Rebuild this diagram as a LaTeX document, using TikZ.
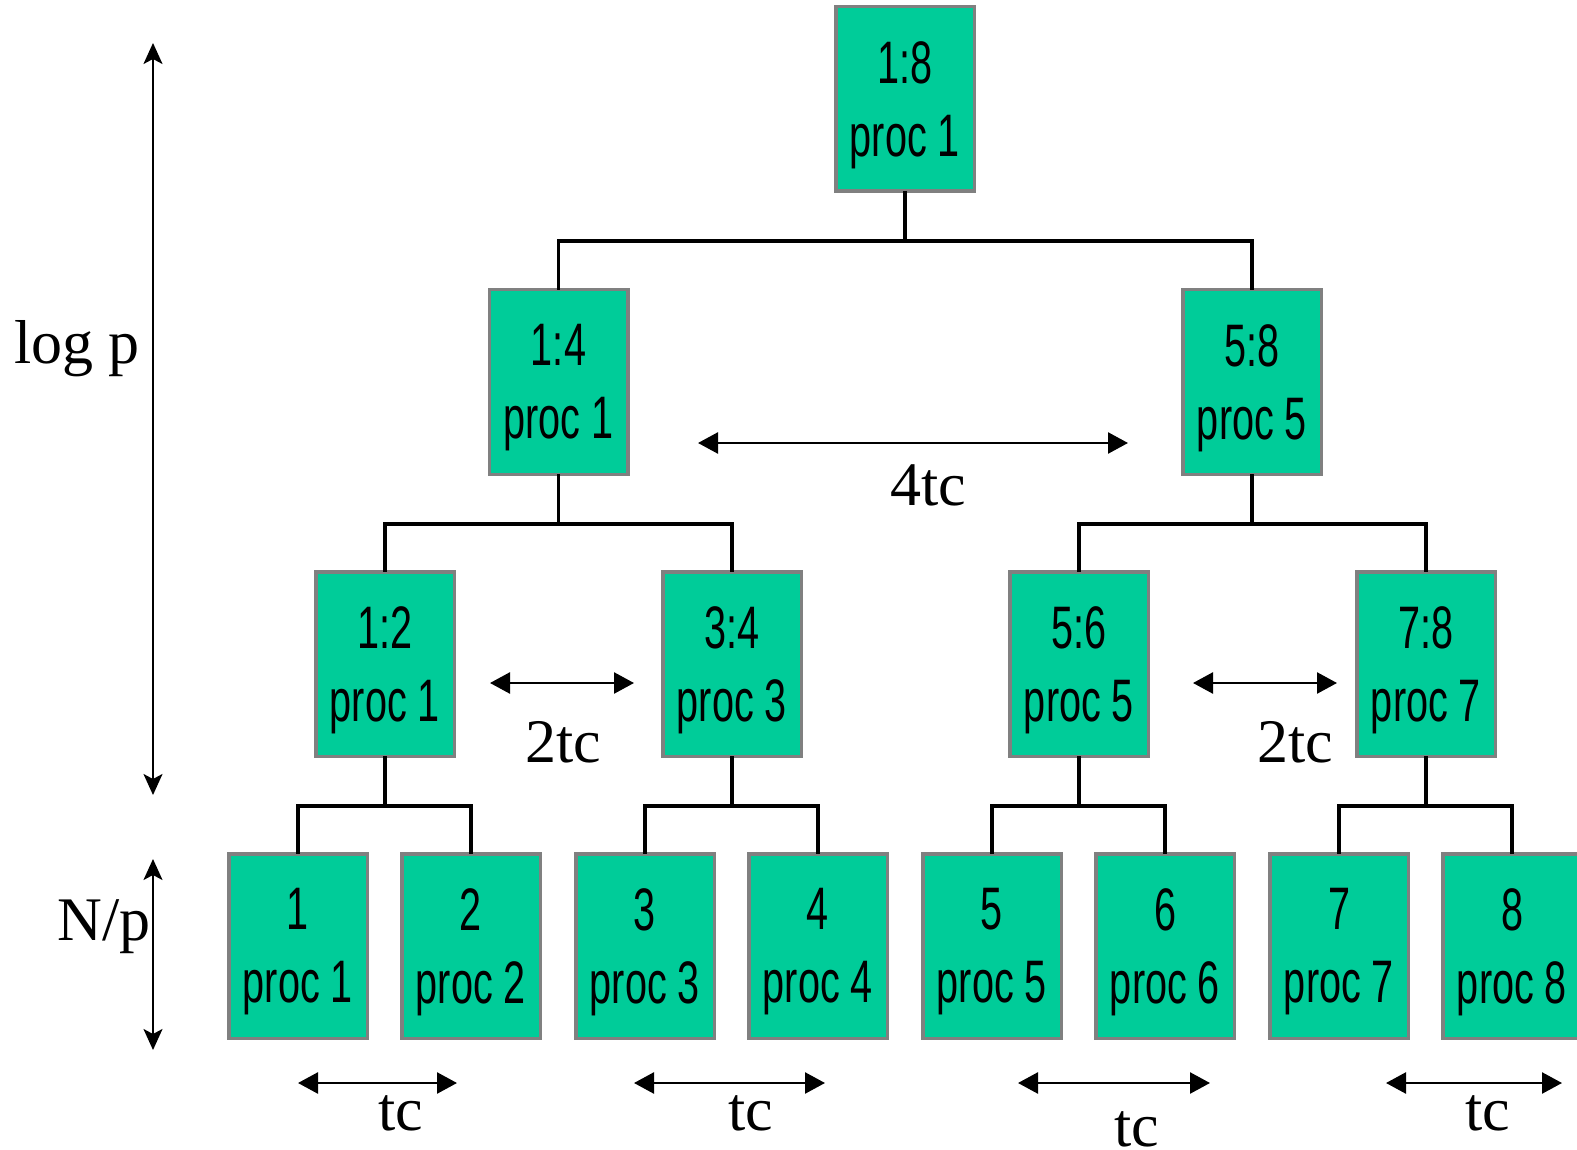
\documentclass[tikz,border=0pt]{standalone}
\usepackage{fontspec}
\setmainfont{Liberation Serif}
\newfontfamily\boxfont[FakeStretch=0.66]{Liberation Sans}
\usetikzlibrary{arrows.meta,calc}

\definecolor{procgreen}{RGB}{0,204,153}
\definecolor{procborder}{RGB}{128,128,128}

\tikzset{
  pbox/.style={draw=procborder, fill=procgreen, line width=3.5pt,
    minimum width=138.5pt, minimum height=184.5pt, inner sep=0pt},
  ptext/.style={align=center, inner sep=0pt, yshift=-6pt,
    font=\boxfont\fontsize{60}{73}\selectfont},
  link/.style={line width=3.5pt, line cap=rect},
  span/.style={line width=2.5pt,
    {Triangle[length=20pt,width=21pt]}-{Triangle[length=20pt,width=21pt]}},
  axis/.style={line width=2pt,
    {Stealth[length=21pt,width=19pt,inset=5pt]}-{Stealth[length=21pt,width=19pt,inset=5pt]}},
  tlabel/.style={inner sep=0pt, anchor=base, font=\fontsize{62}{62}\selectfont}
}

% box with its two lines of text: name, x, y, text
\newcommand\procbox[4]{%
  \node[pbox] (#1) at (#2,#3) {};
  \node[ptext] (#1t) at (#1.center) {#4};}

\begin{document}
\begin{tikzpicture}[x=1pt,y=-1pt]
\useasboundingbox (0,0) rectangle (1577,1150);

% level 0
\procbox{n18}{905}{99}{1:8\\proc 1}
% level 1
\procbox{n14}{558.5}{382}{1:4\\proc 1}
\procbox{n58}{1252}{382}{5:8\\proc 5}
% level 2
\procbox{n12}{385}{664}{1:2\\proc 1}
\procbox{n34}{732}{664}{3:4\\proc 3}
\procbox{n56}{1079}{664}{5:6\\proc 5}
\procbox{n78}{1426}{664}{7:8\\proc 7}
% level 3
\procbox{p1}{298}{946}{1\\proc 1}
\procbox{p2}{471}{946}{2\\proc 2}
\procbox{p3}{645}{946}{3\\proc 3}
\procbox{p4}{818}{946}{4\\proc 4}
\procbox{p5}{992}{946}{5\\proc 5}
\procbox{p6}{1165}{946}{6\\proc 6}
\procbox{p7}{1339}{946}{7\\proc 7}
\procbox{p8}{1512}{946}{8\\proc 8}

% tree connectors
\foreach \up/\a/\b in {n18/n14/n58, n14/n12/n34, n58/n56/n78,
    n12/p1/p2, n34/p3/p4, n56/p5/p6, n78/p7/p8}{
  \draw[link] (\a.north) |- ($(\up.south)+(0,48)$) -| (\b.north);
  \draw[link] (\up.south) -- ++(0,48);
}

% communication spans
\coordinate (s4a) at (698,443);   \coordinate (s4b) at (1128,443);
\draw[span] (s4a) -- (s4b);
\node[tlabel] (l4) at (928,505) {4tc};

\coordinate (s2a) at (490,683);   \coordinate (s2b) at (634,683);
\draw[span] (s2a) -- (s2b);
\node[tlabel] (l2a) at (563,762) {2tc};
\coordinate (s2c) at (1193,683);  \coordinate (s2d) at (1337,683);
\draw[span] (s2c) -- (s2d);
\node[tlabel] (l2b) at (1295,762) {2tc};

\coordinate (s1a) at (298,1083);  \coordinate (s1b) at (457,1083);
\draw[span] (s1a) -- (s1b);
\node[tlabel] (l1a) at (401,1130) {tc};
\coordinate (s1c) at (634,1083);  \coordinate (s1d) at (825,1083);
\draw[span] (s1c) -- (s1d);
\node[tlabel] (l1b) at (751,1130) {tc};
\coordinate (s1e) at (1018,1083); \coordinate (s1f) at (1210,1083);
\draw[span] (s1e) -- (s1f);
\node[tlabel] (l1c) at (1137,1146) {tc};
\coordinate (s1g) at (1386,1083); \coordinate (s1h) at (1562,1083);
\draw[span] (s1g) -- (s1h);
\node[tlabel] (l1d) at (1488,1130) {tc};

% vertical extents
\coordinate (ax1) at (153,43);  \coordinate (ax2) at (153,795);
\draw[axis] (ax1) -- (ax2);
\node[tlabel] (llog) at (77,363) {log p};
\coordinate (ax3) at (153,859); \coordinate (ax4) at (153,1050);
\draw[axis] (ax3) -- (ax4);
\node[tlabel] (lnp) at (104,940) {N/p};
\end{tikzpicture}
\end{document}
